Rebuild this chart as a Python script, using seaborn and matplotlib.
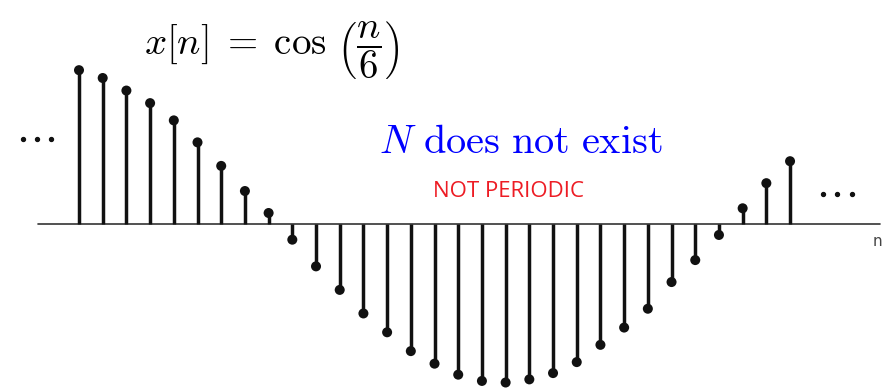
import seaborn as sns
import matplotlib.pyplot as plt
import pandas as pd
import numpy as np

# sample index and the stem heights
n_idx = list(range(31))
x_vals = [0.98, 0.93, 0.85, 0.77, 0.66, 0.52, 0.37, 0.21, 0.07,
          -0.10, -0.27, -0.42, -0.57, -0.69, -0.81, -0.89, -0.96, -1.00,
          -1.01, -0.99, -0.95, -0.88, -0.77, -0.66, -0.54, -0.37, -0.23,
          -0.07, 0.10, 0.26, 0.40]

title_txt = r'$x[n]\;=\;\cos\,\left(\dfrac{n}{6}\right)$'
note_txt = r'$N\ \mathrm{does\ not\ exist}$'
flag_txt = 'NOT PERIODIC'
axis_lbl = 'n'

df = pd.DataFrame({'n': n_idx, 'x': x_vals})

sns.set_style('white')
plt.rcParams['mathtext.fontset'] = 'cm'

fig = plt.figure(figsize=(8.96, 3.88), dpi=100)
ax = fig.add_axes([0, 0, 1, 1])

# baseline
ax.plot([-1.73, 33.8], [0, 0], color='#333333', lw=1.2, zorder=1)

# stems + heads
ax.vlines(df['n'], 0, df['x'], color='#111111', lw=2.5, zorder=2)
sns.scatterplot(data=df, x='n', y='x', ax=ax, color='#111111',
                s=52, edgecolor='none', zorder=3, legend=False)

# ellipsis on both sides
ax.scatter([-2.36, -1.77, -1.18], [0.54, 0.54, 0.54], s=8, color='#111111')
ax.scatter([31.4, 32.0, 32.6], [0.19, 0.19, 0.19], s=8, color='#111111')

ax.text(33.7, -0.11, axis_lbl, fontsize=11, color='#444444',
        family='DejaVu Sans', ha='center', va='center')

ax.text(8.15, 1.11, title_txt, fontsize=28, color='black',
        ha='center', va='center')
ax.text(18.65, 0.52, note_txt, fontsize=29, color='#0000ff',
        ha='center', va='center')
ax.text(18.1, 0.21, flag_txt, fontsize=16, color='#ed1c24',
        family='Open Sans', ha='center', va='center')

ax.set_xlim(-3.333, 34.47)
ax.set_ylim(-1.045, 1.427)
ax.axis('off')

plt.savefig('out.png', dpi=100)
